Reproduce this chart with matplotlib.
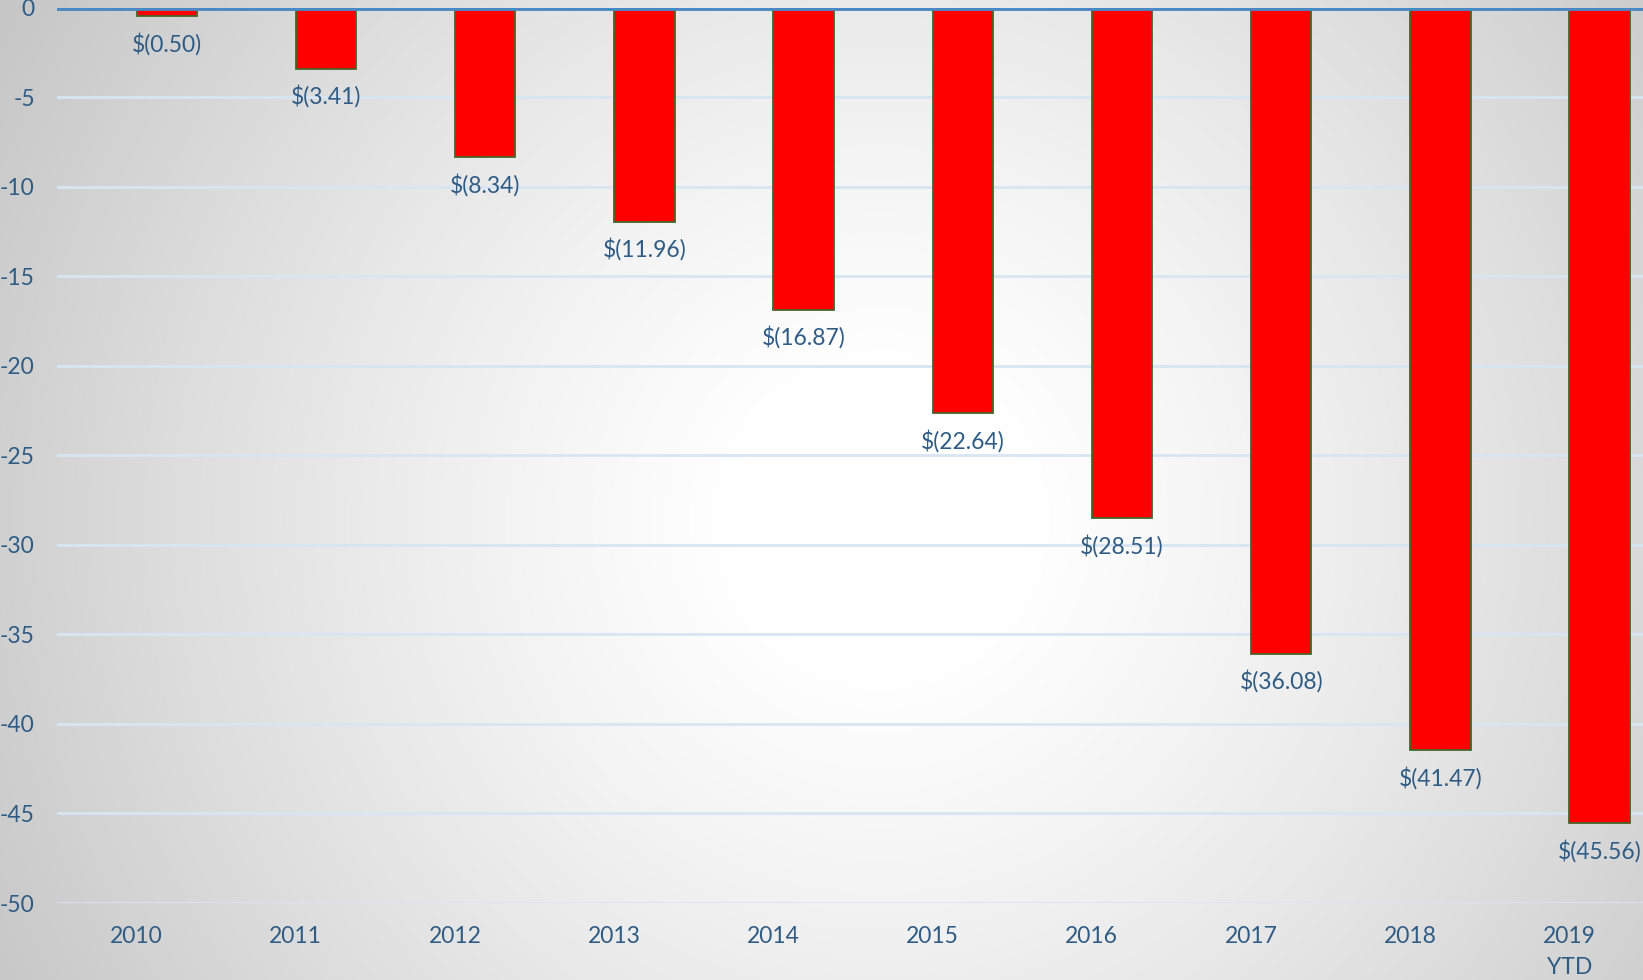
import numpy as np
import matplotlib
matplotlib.use("Agg")
import matplotlib.pyplot as plt

categories = ["2010", "2011", "2012", "2013", "2014", "2015", "2016", "2017", "2018", "2019\nYTD"]
values = [-0.50, -3.41, -8.34, -11.96, -16.87, -22.64, -28.51, -36.08, -41.47, -45.56]
yticks = [0, -5, -10, -15, -20, -25, -30, -35, -40, -45, -50]

TEXT = "#2F5C85"
plt.rcParams['font.family'] = ['Lato', 'DejaVu Sans']

W, H = 1643, 980
fig = plt.figure(figsize=(W / 100, H / 100), dpi=100)

# radial gradient background
bg = fig.add_axes([0, 0, 1, 1], zorder=-10)
yy, xx = np.mgrid[0:H, 0:W]
cx, cy = 880, 520
r = np.sqrt((xx - cx) ** 2 + (yy - cy) ** 2) / 1000.0
shade = 1.0 - 0.24 * np.clip(r, 0, 1) ** 1.3
shade = np.clip(shade + 0.02, 0, 1)
bg.imshow(np.dstack([shade, shade, shade]), aspect='auto', extent=[0, 1, 0, 1], origin='upper')
bg.axis('off')

left = 57 / W
width = 1592 / W
bottom = 1 - 903 / H
top = 1 - 7.5 / H
ax = fig.add_axes([left, bottom, width, top - bottom])
ax.set_facecolor('none')

x = np.arange(len(categories))
offset = 0.19
bw = 0.38
bars = ax.bar(x + offset, values, width=bw, color='#FF0000', edgecolor='#46652A', linewidth=1.3, zorder=3)

for xi, v in zip(x, values):
    ax.annotate(f"$({abs(v):.2f})", (xi + offset, v), xytext=(0, -20), textcoords='offset points',
                ha='center', va='center', fontsize=16.5, color=TEXT, zorder=4)

ax.set_xlim(-0.5, len(categories) - 0.5)
ax.set_ylim(-50, 0)
ax.set_yticks(yticks)
ax.set_yticklabels([str(t) for t in yticks])
ax.set_xticks(x)
ax.set_xticklabels(categories, linespacing=1.6)
ax.tick_params(axis='both', length=0, labelsize=16.5, labelcolor=TEXT)
ax.tick_params(axis='y', pad=16)
ax.tick_params(axis='x', pad=16.5)

for t in yticks[1:]:
    ax.axhline(t, color='#D8E5F2', linewidth=2, zorder=1)
ax.axhline(0, color='#4A89C4', linewidth=3.5, zorder=5)

for s in ax.spines.values():
    s.set_visible(False)

fig.savefig("out.png", dpi=100)
